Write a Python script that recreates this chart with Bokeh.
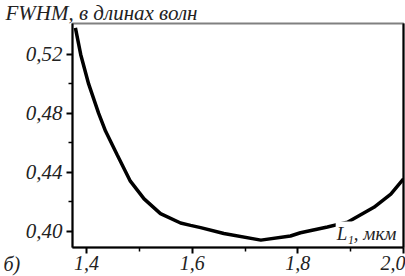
from bokeh.plotting import figure
from bokeh.models import Range1d, FixedTicker, CustomJSTickFormatter, Label, LinearAxis, Title
from bokeh.embed import file_html
from bokeh.resources import INLINE

# Data
L1_um = [1.379, 1.389, 1.404, 1.423, 1.436, 1.458, 1.483, 1.509, 1.540, 1.578,
         1.597, 1.616, 1.660, 1.730, 1.786, 1.805, 1.856, 1.894, 1.944, 1.976, 2.000]
fwhm = [0.538, 0.520, 0.500, 0.480, 0.468, 0.452, 0.434, 0.422, 0.412, 0.4056,
        0.404, 0.4025, 0.3985, 0.394, 0.3968, 0.399, 0.4029, 0.4062, 0.4163, 0.4253, 0.4355]
x_major = [1.4, 1.6, 1.8, 2.0]
x_minor = [1.5, 1.7, 1.9]
y_major = [0.40, 0.44, 0.48, 0.52]
y_minor = [0.42, 0.46, 0.50]

FONT = "Liberation Serif"
X0, X1, Y0, Y1 = 1.3735, 2.0, 0.389, 0.541

p = figure(width=405, height=276, output_backend="svg", toolbar_location=None, title=None,
           x_range=Range1d(X0, X1), y_range=Range1d(Y0, Y1),
           min_border_left=72, min_border_right=2, min_border_top=21, min_border_bottom=29)
p.outline_line_color = "#808080"
p.outline_line_width = 2
p.grid.visible = False
p.background_fill_color = "white"

p.line(L1_um, fwhm, line_color="black", line_width=3.5)

for ax, maj, mnr, fmt, fs in ((p.xaxis[0], x_major, x_minor, "return tick.toFixed(1).replace('.', ',');", "20px"),
                              (p.yaxis[0], y_major, y_minor, "return tick.toFixed(2).replace('.', ',');", "21px")):
    ax.ticker = FixedTicker(ticks=maj, minor_ticks=mnr)
    ax.formatter = CustomJSTickFormatter(code=fmt)
    ax.axis_line_color = "black"
    ax.axis_line_width = 2
    ax.major_tick_line_width = 2
    ax.minor_tick_line_width = 1.5
    ax.major_tick_out = 6
    ax.major_tick_in = 0
    ax.minor_tick_out = 4
    ax.minor_tick_in = 0
    ax.major_label_text_font = FONT
    ax.major_label_text_font_style = "italic"
    ax.major_label_text_font_size = fs
    ax.major_label_text_color = "#222222"
p.yaxis[0].major_label_standoff = 4
p.xaxis[0].major_label_standoff = 2

right = LinearAxis(ticker=FixedTicker(ticks=[]), major_label_text_font_size="0px",
                   major_label_standoff=0, major_tick_out=0, axis_line_color="black",
                   axis_line_width=2)
p.add_layout(right, "right")

# axis caption at the top-left
p.add_layout(Title(text="FWHM, в длинах волн", align="left", offset=-67, standoff=-3,
                   text_font=FONT, text_font_style="italic", text_font_size="21px",
                   text_color="#222222"), "above")

p.add_layout(Label(x=X1, y=Y0, x_offset=-6, y_offset=3, text="L₁, мкм",
                   text_align="right", text_baseline="bottom", text_font=FONT,
                   text_font_style="italic", text_font_size="19px", text_color="#222222",
                   background_fill_color="white", padding=1))

p.add_layout(Label(x=-2, y=-5, x_units="screen", y_units="screen", text="б)",
                   text_align="left", text_baseline="top", text_font=FONT,
                   text_font_style="italic", text_font_size="20px", text_color="#222222",
                   level="overlay"), "left")

open("out.html", "w").write(file_html(p, INLINE))
